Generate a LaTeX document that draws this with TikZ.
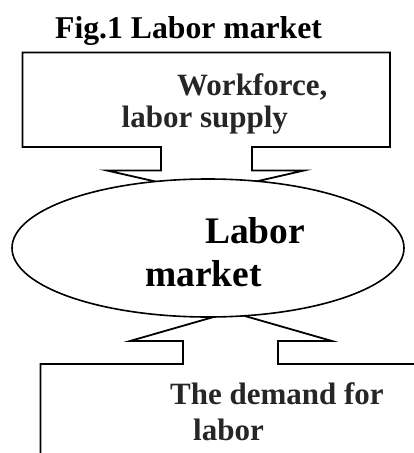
\documentclass[tikz,border=0pt]{standalone}
\usepackage{fontspec}
\setmainfont{Liberation Serif}
\usetikzlibrary{shapes.geometric}
\definecolor{boxtext}{HTML}{262626}
\tikzset{
  outline/.style={draw=black, line width=1.8pt, line join=miter},
  oval/.style={ellipse, draw=black, line width=1.6pt, fill=white, inner sep=0pt,
               minimum width=392pt, minimum height=138pt},
  titletext/.style={anchor=base west, inner sep=0pt, text=black,
                    font=\bfseries\fontsize{31.7}{34}\selectfont},
  boxlabel/.style={anchor=base west, inner sep=0pt, text=boxtext,
                   font=\bfseries\fontsize{31}{32}\selectfont},
  ovallabel/.style={anchor=base west, inner sep=0pt, text=black,
                    font=\bfseries\fontsize{37.5}{40}\selectfont}
}
\begin{document}
\begin{tikzpicture}[x=1pt, y=-1pt]
  \useasboundingbox (0,0) rectangle (414,453);
  \clip (0,0) rectangle (414,453);
  \fill[white] (0,0) rectangle (414,453);

  % upper box with downward arrow
  \draw[outline] (22.5,52.5) -- (390,52.5) -- (390,147) -- (252,147)
    -- (252,170.5) -- (304,170.5) -- (206,193) -- (107,170.5)
    -- (161,170.5) -- (161,147) -- (22.5,147) -- cycle;

  % lower box with upward arrow
  \draw[outline] (40.5,470) -- (40.5,364) -- (183,364) -- (183,341)
    -- (130,341) -- (231,312) -- (332,341) -- (278,341) -- (278,364)
    -- (430,364);

  % ellipse
  \node[oval] (market) at (208,248) {};

  % texts
  \node[titletext] (title) at (55,38.5) {Fig.1 Labor market};
  \node[boxlabel] (supply1) at (177,95) {Workforce,};
  \node[boxlabel] (supply2) at (121.5,127) {labor supply};
  \node[ovallabel] (lm1) at (205,243.5) {Labor};
  \node[ovallabel] (lm2) at (145,286) {market};
  \node[boxlabel] (demand1) at (170,404) {The demand for};
  \node[boxlabel] (demand2) at (193,440.5) {labor};
\end{tikzpicture}
\end{document}
